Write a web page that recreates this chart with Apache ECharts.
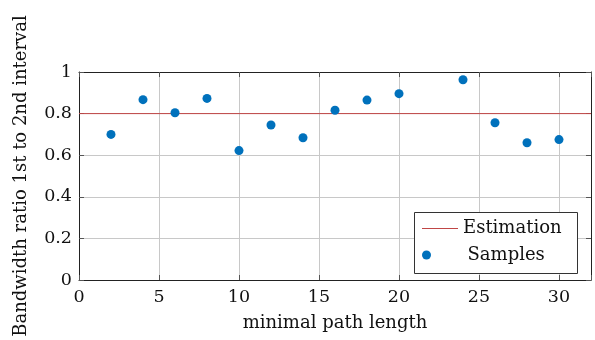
<!DOCTYPE html>
<html><head><meta charset="utf-8">
<script src="https://cdn.jsdelivr.net/npm/echarts@6/dist/echarts.min.js"></script>
<style>html,body{margin:0;padding:0;background:#fff}#c{width:595px;height:340px}</style>
</head><body><div id="c"></div>
<script>
var sampleX = [2, 4, 6, 8, 10, 12, 14, 16, 18, 20, 24, 26, 28, 30];
var sampleY = [0.700, 0.867, 0.804, 0.873, 0.622, 0.745, 0.684, 0.816, 0.865, 0.896, 0.963, 0.756, 0.660, 0.675];
var estimationX = [0, 32];
var estimationY = [0.8, 0.8];
var xTicks = [0, 5, 10, 15, 20, 25, 30];
var yTicks = [0, 0.2, 0.4, 0.6, 0.8, 1];

var font = 'DejaVu Serif';
var fs = 17.5;
var chart = echarts.init(document.getElementById('c'), null, {renderer: 'canvas'});
var axisLineStyle = {show: true, onZero: false, lineStyle: {color: '#222', width: 1}};
var tickStyle = {show: true, inside: true, length: 5, lineStyle: {color: '#555', width: 1}};
chart.setOption({
  animation: false,
  grid: {left: 79, right: 4, top: 72, bottom: 60, containLabel: false},
  xAxis: [{
    type: 'value', min: 0, max: 32, interval: 5, position: 'bottom',
    name: 'minimal path length', nameLocation: 'middle', nameGap: 34,
    nameTextStyle: {fontFamily: font, fontSize: 18, color: '#111'},
    axisLine: axisLineStyle, axisTick: tickStyle,
    axisLabel: {fontFamily: font, fontSize: fs, color: '#111', margin: 8,
      formatter: function (v) { return xTicks.indexOf(v) >= 0 ? String(v) : ''; }},
    splitLine: {show: true, lineStyle: {color: '#c8c8c8', width: 1}}
  }, {
    type: 'value', min: 0, max: 32, interval: 5, position: 'top',
    axisLine: axisLineStyle, axisTick: tickStyle, axisLabel: {show: false}, splitLine: {show: false}
  }],
  yAxis: [{
    type: 'value', min: 0, max: 1, interval: 0.2, position: 'left',
    name: 'Bandwidth ratio 1st to 2nd interval', nameLocation: 'middle', nameGap: 49,
    nameTextStyle: {fontFamily: font, fontSize: 18, color: '#111'},
    axisLine: axisLineStyle, axisTick: tickStyle,
    axisLabel: {fontFamily: font, fontSize: fs, color: '#111', margin: 7,
      formatter: function (v) { var r = Math.round(v * 10) / 10; return yTicks.indexOf(r) >= 0 ? String(r) : ''; }},
    splitLine: {show: true, lineStyle: {color: '#c8c8c8', width: 1}}
  }, {
    type: 'value', min: 0, max: 1, interval: 0.2, position: 'right',
    axisLine: axisLineStyle, axisTick: tickStyle, axisLabel: {show: false}, splitLine: {show: false}
  }],
  legend: [{
    data: [{name: 'Estimation', icon: 'rect'}], orient: 'vertical', left: 422, top: 218.5, z: 110,
    itemWidth: 36, itemHeight: 1, padding: 0,
    textStyle: {fontFamily: font, fontSize: 18, color: '#111', lineHeight: 20}
  }, {
    data: ['Samples'], orient: 'vertical', left: 422, top: 246, z: 110,
    itemWidth: 36, itemHeight: 9, padding: 0,
    formatter: function (name) { return '\u2003' + name; },
    textStyle: {fontFamily: font, fontSize: 18, color: '#111'}
  }],
  graphic: {elements: [{
    type: 'rect', z: 100, left: 414, top: 212,
    shape: {width: 163, height: 61},
    style: {fill: '#fff', stroke: '#333', lineWidth: 1}
  }]},
  series: [{
    name: 'Estimation', type: 'line', symbol: 'none', z: 3,
    data: estimationX.map(function (x, i) { return [x, estimationY[i]]; }),
    lineStyle: {color: '#c04646', width: 1}, itemStyle: {color: '#c04646'}
  }, {
    name: 'Samples', type: 'scatter', symbol: 'circle', symbolSize: 9, z: 4,
    data: sampleX.map(function (x, i) { return [x, sampleY[i]]; }),
    itemStyle: {color: '#0071bc', opacity: 1}
  }]
});
</script></body></html>
